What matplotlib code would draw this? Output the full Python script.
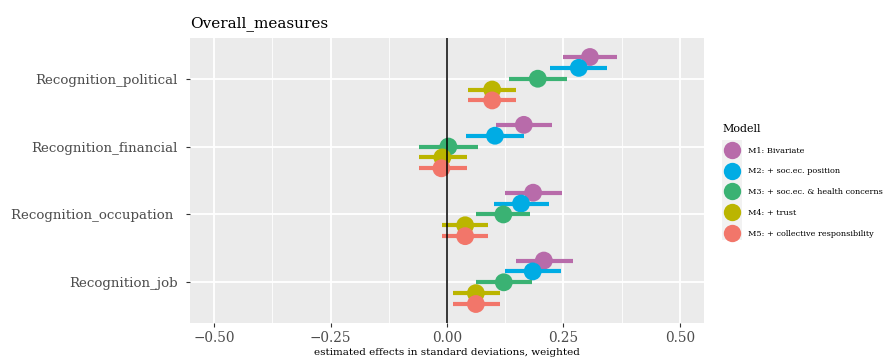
import numpy as np
import matplotlib.pyplot as plt
from matplotlib.lines import Line2D
from matplotlib.patches import Rectangle

# outcomes, top to bottom
outcomes = ['Recognition_political', 'Recognition_financial',
            'Recognition_occupation ', 'Recognition_job']
models = ['M1: Bivariate', 'M2: + soc.ec. position',
          'M3: + soc.ec. & health concerns', 'M4: + trust',
          'M5: + collective responsibility']
colors = ['#B86BAA', '#00ACE4', '#3AB273', '#BBB500', '#F2766A']

# estimates per model (rows) and outcome (columns)
est = np.array([
    [0.307, 0.165, 0.185, 0.208],
    [0.283, 0.103, 0.159, 0.184],
    [0.195, 0.003, 0.121, 0.122],
    [0.097, -0.010, 0.039, 0.062],
    [0.097, -0.012, 0.039, 0.062],
])
lo = np.array([
    [0.249, 0.105, 0.124, 0.148],
    [0.221, 0.041, 0.101, 0.124],
    [0.133, -0.061, 0.062, 0.062],
    [0.045, -0.061, -0.011, 0.013],
    [0.045, -0.061, -0.011, 0.013],
])
hi = np.array([
    [0.365, 0.225, 0.247, 0.270],
    [0.343, 0.165, 0.219, 0.245],
    [0.258, 0.067, 0.178, 0.182],
    [0.148, 0.042, 0.088, 0.113],
    [0.148, 0.042, 0.088, 0.113],
])

plt.rcParams['font.family'] = ['DejaVu Serif']

fig = plt.figure(figsize=(8.84, 3.58), dpi=100)
ax = fig.add_axes([190/884, 1-323/358, 514/884, 285/358])
ax.set_facecolor('#EBEBEB')

ypos = np.arange(len(outcomes))[::-1] + 1.0
offsets = [0.32, 0.16, 0.0, -0.16, -0.32]

for i, m in enumerate(models):
    y = ypos + offsets[i]
    ax.hlines(y, lo[i], hi[i], color=colors[i], lw=3.0, zorder=3 + i)
    ax.scatter(est[i], y, s=165, color=colors[i], edgecolors='none', zorder=3 + i)

ax.axvline(0, color='black', lw=1.1, zorder=20)

ax.set_xlim(-0.552, 0.552)
ax.set_ylim(0.4, 4.6)
ax.set_xticks([-0.5, -0.25, 0, 0.25, 0.5])
ax.set_xticklabels(['\u22120.50', '\u22120.25', '0.00', '0.25', '0.50'])
ax.set_xticks([-0.375, -0.125, 0.125, 0.375], minor=True)
ax.set_yticks(ypos)
ax.set_yticklabels(outcomes)
ax.grid(which='major', color='white', lw=1.3, zorder=0)
ax.grid(which='minor', axis='x', color='white', lw=0.6, zorder=0)
ax.set_axisbelow(True)
for s in ax.spines.values():
    s.set_visible(False)
ax.tick_params(which='major', length=3, width=0.8, color='#333333',
               labelcolor='#4D4D4D', labelsize=9.8, pad=3)
ax.tick_params(which='minor', length=0)
ax.tick_params(axis='y', labelsize=9.6, pad=6)

ax.set_xlabel('estimated effects in standard deviations, weighted',
              fontsize=7.5, labelpad=2)
ax.set_title('Overall_measures', loc='left', fontsize=11, pad=8)

# legend key background
fig.patches.append(Rectangle((722/884, 1-240/358), 20/884, 100/358,
                             transform=fig.transFigure, facecolor='#F2F2F2',
                             edgecolor='none', zorder=0))

handles = [Line2D([], [], marker='o', ls='none', markersize=12.5,
                  markerfacecolor=c, markeredgecolor='none') for c in colors]
leg = fig.legend(handles, models, title='Modell', loc='upper left',
                 bbox_to_anchor=(722/884, 1-124/358), bbox_transform=fig.transFigure,
                 frameon=False, fontsize=5.9, title_fontsize=8,
                 labelspacing=1.55, handlelength=2.45, handletextpad=0.75,
                 borderpad=0, borderaxespad=0)
leg._legend_box.align = 'left'

fig.savefig('out.png', dpi=100)
